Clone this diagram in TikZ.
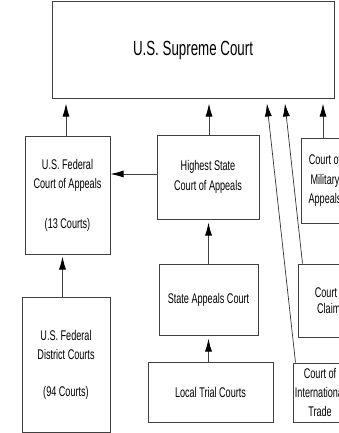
\documentclass[tikz,border=0pt]{standalone}
\usepackage{fontspec}
\setmainfont{Liberation Sans}[FakeStretch=0.65]
\usetikzlibrary{arrows.meta,calc}
\begin{document}
\begin{tikzpicture}[x=1pt,y=-1pt,
  box/.style={draw=black!75, line width=1pt, inner sep=0pt, align=center,
    text=black, font=\fontsize{14}{19.5}\selectfont},
  big/.style={font=\fontsize{20.5}{23}\selectfont},
  tip/.style={-{Latex[length=13pt,width=7pt,color=black,fill=black]}},
  arr/.style={draw=black!75, line width=0.9pt, tip},
  slant/.style={draw=black!80, line width=0.7pt, tip}
]
\useasboundingbox (0,0) rectangle (339,433);
\clip (0,0) rectangle (339,433);
\fill[white] (0,0) rectangle (339,433);

\node[box,big,minimum width=282pt,minimum height=97pt] (sup) at (193,50.5) {U.S. Supreme Court};
\node[box,minimum width=85pt,minimum height=118pt] (fedapp) at (67.5,195)
  {U.S. Federal\\Court of Appeals\\[20pt](13 Courts)};
\node[box,minimum width=102pt,minimum height=84pt] (hsa) at (208,177)
  {Highest State\\Court of Appeals};
\node[box,minimum width=48pt,minimum height=85pt] (mil) at (325,180.5)
  {Court of\\Military\\Appeals};
\node[box,minimum width=66pt,minimum height=73pt,font=\fontsize{14}{16.5}\selectfont] (claims) at (331,300.5)
  {Court of\\Claims};
\node[box,minimum width=99pt,minimum height=71pt] (sac) at (208.5,299.5)
  {State Appeals Court};
\node[box,minimum width=88pt,minimum height=135pt] (dist) at (66,364.5)
  {U.S. Federal\\District Courts\\[17pt](94 Courts)};
\node[box,minimum width=125pt,minimum height=60pt] (ltc) at (210.5,392)
  {Local Trial Courts};
\node[box,minimum width=54pt,minimum height=59pt,font=\fontsize{14}{19}\selectfont] (intl) at (320,392.5)
  {Court of\\International\\Trade};

% arrows to Supreme Court
\draw[arr,shorten >=4pt] ([xshift=-1.5pt]fedapp.north) -- ([xshift=-1.5pt]fedapp.north |- sup.south);
\draw[arr,shorten >=4pt] ([xshift=1pt]hsa.north) -- ([xshift=1pt]hsa.north |- sup.south);
\draw[arr,shorten >=4pt] ([xshift=-2pt]mil.north) -- ([xshift=-2pt]mil.north |- sup.south);
\draw[slant,shorten >=4pt] ([xshift=5pt]claims.north west) -- ($(sup.south west)+(233,0)$);
\draw[slant,shorten >=4pt] ([xshift=3pt]intl.north west) -- ($(sup.south west)+(215,0)$);

% other arrows
\draw[arr] ([yshift=3pt]hsa.west) -- ([yshift=3pt]hsa.west -| fedapp.east);
\draw[arr,shorten >=2pt] ([xshift=-3.5pt]dist.north) -- ([xshift=-3.5pt]dist.north |- fedapp.south);
\draw[arr,shorten >=3pt] (sac.south |- ltc.north) -- (sac.south);
\draw[arr,shorten >=3pt] (sac.north) -- (sac.north |- hsa.south);
\end{tikzpicture}
\end{document}
